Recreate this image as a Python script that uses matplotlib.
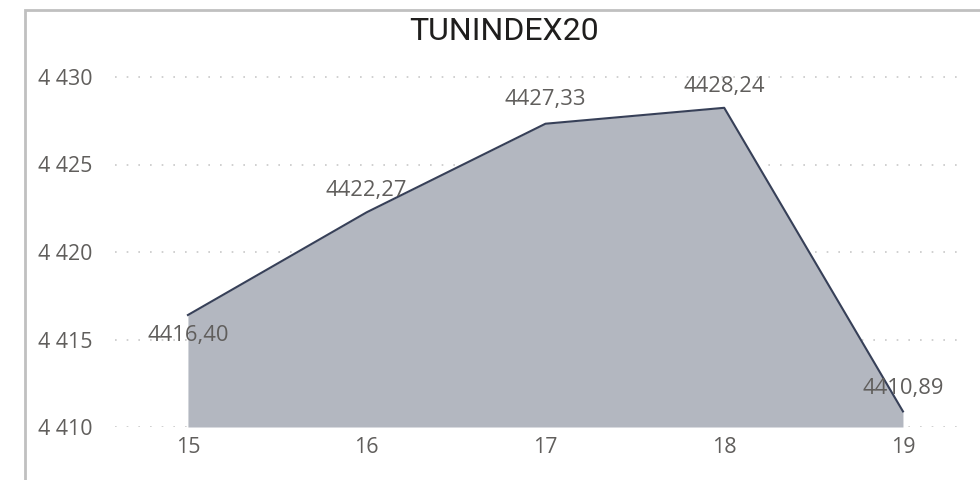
import matplotlib
matplotlib.use("Agg")
import matplotlib.pyplot as plt
from matplotlib.patches import Rectangle

plt.rcParams['font.family'] = ['Open Sans', 'DejaVu Sans']

# data
days = [15, 16, 17, 18, 19]
values = [4416.40, 4422.27, 4427.33, 4428.24, 4410.89]
yticks = [4410, 4415, 4420, 4425, 4430]
# label offsets (pixels) - first label sits below its point
label_dy = [-20, 22, 24, 21, 23]

fig = plt.figure(figsize=(9.8, 4.8), dpi=100)
ax = fig.add_axes([115 / 980, 53 / 480, 850 / 980, 367.5 / 480])

line_col = '#374058'
fill_col = '#b3b7c0'
txt_col = '#605e5c'

ax.fill_between(days, values, 4410, color=fill_col, linewidth=0, zorder=2)
ax.plot(days, values, color=line_col, linewidth=1.5, zorder=3)

for x, v, dy in zip(days, values, label_dy):
    lab = f"{v:.2f}".replace('.', ',')
    ax.annotate(lab, (x, v), xytext=(0, dy), textcoords='offset pixels',
                ha='center', va='center', fontsize=15.8, color=txt_col, zorder=4)

ax.set_xlim(14.592, 19.347)
ax.set_ylim(4410, 4431)
ax.set_xticks(days)
ax.set_xticklabels([str(d) for d in days])
ax.set_yticks(yticks)
ax.set_yticklabels([f"{t // 1000} {t % 1000:03d}" for t in yticks])
ax.grid(axis='y', color='#c8c8c8', linestyle=(0, (1, 6)), linewidth=1.2, zorder=1)
ax.set_axisbelow(True)
ax.tick_params(length=0, labelsize=15.4, labelcolor=txt_col)
ax.tick_params(axis='y', pad=16)
ax.tick_params(axis='x', pad=7)
for s in ax.spines.values():
    s.set_visible(False)

fig.text(504 / 980, 1 - 31 / 480, 'TUNINDEX20', ha='center', va='center',
         fontsize=23, color='#1f1e1d', family=['Roboto', 'DejaVu Sans'])

# outer frame (runs off the right and bottom edges)
fig.add_artist(Rectangle((24.5 / 980, -0.1), 1.2, 1 - 9.5 / 480 + 0.1,
                         transform=fig.transFigure, fill=False,
                         edgecolor='#c0c0c0', linewidth=2))

fig.savefig('out.png', dpi=100)
